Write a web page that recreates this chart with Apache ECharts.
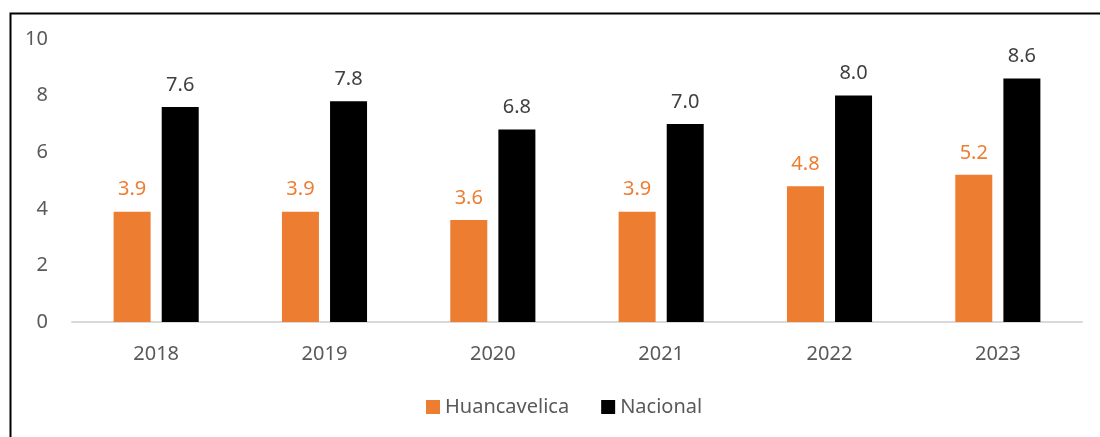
<!DOCTYPE html>
<html>
<head>
<meta charset="utf-8">
<script src="https://cdn.jsdelivr.net/npm/echarts@6/dist/echarts.min.js"></script>
<style>
  html, body { margin: 0; padding: 0; background: #fff; }
  #chart { width: 1100px; height: 437px; }
</style>
</head>
<body>
<div id="chart"></div>
<script>
// data
var years = ['2018', '2019', '2020', '2021', '2022', '2023'];
var huancavelica = [3.9, 3.9, 3.6, 3.9, 4.8, 5.2];
var nacional = [7.6, 7.8, 6.8, 7.0, 8.0, 8.6];

var fontFam = "'Noto Sans', 'Open Sans', sans-serif";
var chart = echarts.init(document.getElementById('chart'));

chart.setOption({
  animation: false,
  textStyle: { fontFamily: fontFam },
  graphic: [{
    type: 'rect',
    left: 8, top: 11,
    shape: { width: 1100, height: 440 },
    style: { fill: 'none', stroke: '#000', lineWidth: 2 }
  }],
  grid: { left: 72, right: 18, top: 39, bottom: 115 },
  legend: {
    bottom: 15,
    left: 421,
    itemWidth: 14,
    itemHeight: 14,
    itemGap: 32,
    icon: 'rect',
    textStyle: { fontSize: 20, color: '#595959', fontFamily: fontFam },
    data: ['Huancavelica', 'Nacional']
  },
  xAxis: {
    type: 'category',
    data: years,
    axisLine: { lineStyle: { color: '#d9d9d9', width: 2 } },
    axisTick: { show: false },
    axisLabel: { fontSize: 20, color: '#595959', margin: 22 }
  },
  yAxis: {
    type: 'value',
    min: 0, max: 10, interval: 2,
    splitLine: { show: false },
    axisLine: { show: false },
    axisLabel: { fontSize: 20, color: '#595959', margin: 24 }
  },
  series: [
    {
      name: 'Huancavelica',
      type: 'bar',
      barWidth: 37,
      barGap: '30%',
      itemStyle: { color: '#ED7D31' },
      label: {
        show: true, position: 'top', distance: 12,
        fontSize: 20, color: '#ED7D31',
        formatter: function (p) { return p.value.toFixed(1); }
      },
      data: huancavelica
    },
    {
      name: 'Nacional',
      type: 'bar',
      barWidth: 37,
      itemStyle: { color: '#000000' },
      label: {
        show: true, position: 'top', distance: 12,
        fontSize: 20, color: '#404040',
        formatter: function (p) { return p.value.toFixed(1); }
      },
      data: nacional
    }
  ]
});
</script>
</body>
</html>
